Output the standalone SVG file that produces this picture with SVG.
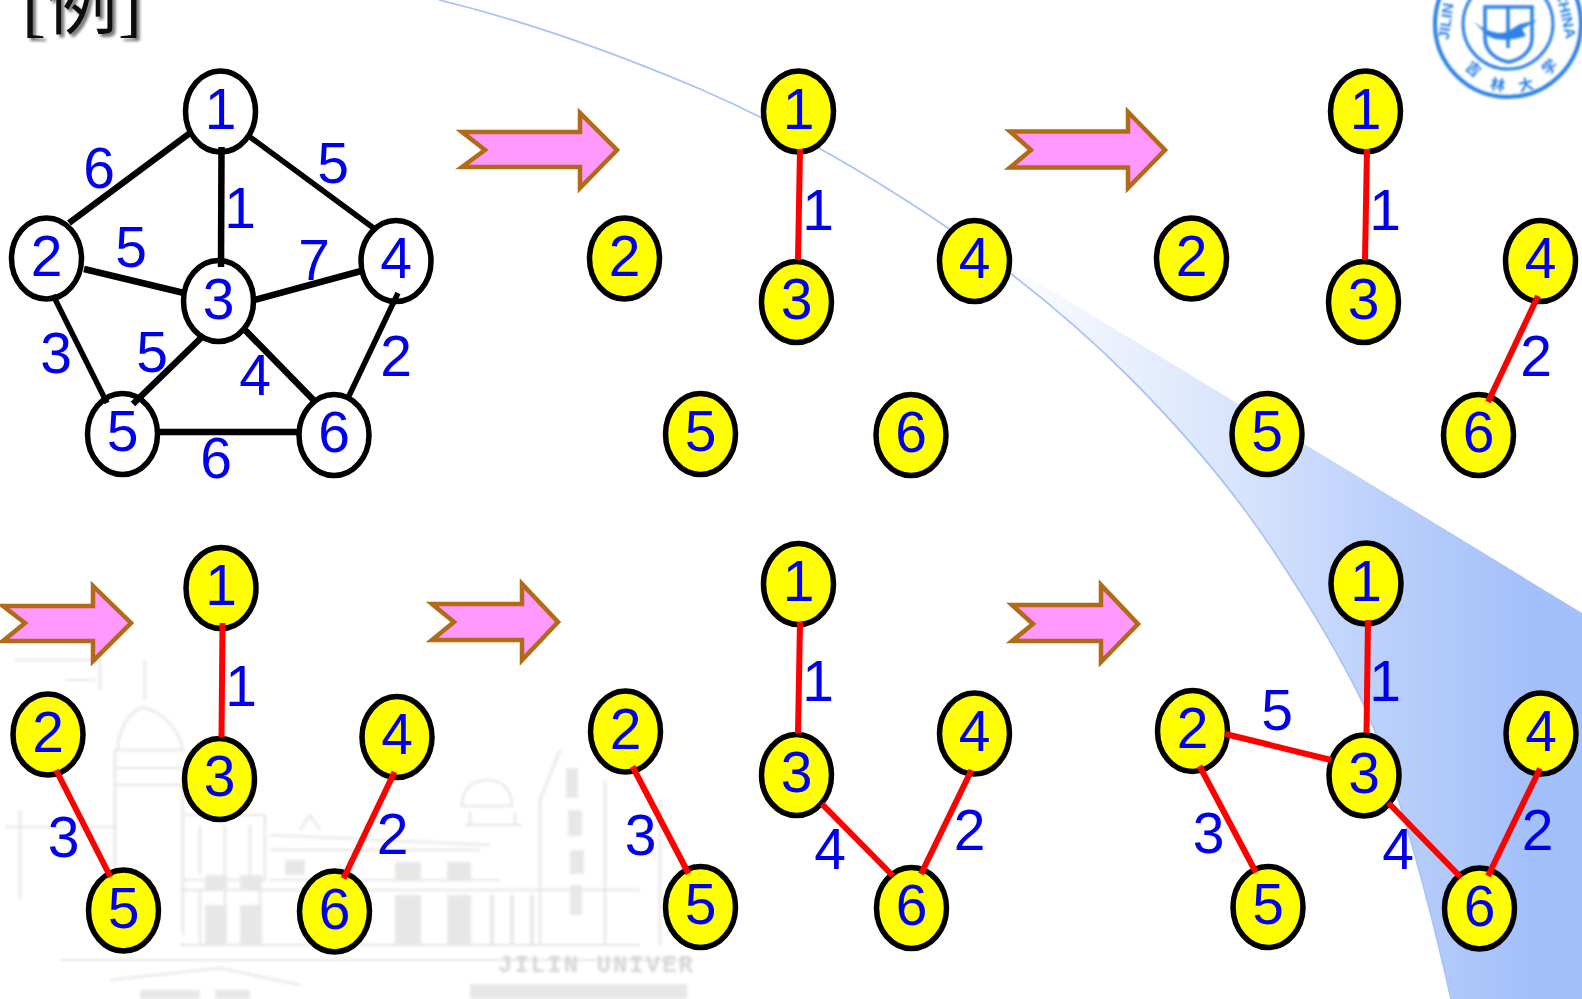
<svg xmlns="http://www.w3.org/2000/svg" width="1582" height="999" viewBox="0 0 1582 999">
<style>
text{font-family:"Liberation Sans",Arial,sans-serif}
.n text,.l{font-size:57px;fill:#0000EE;text-anchor:middle}
.n ellipse{stroke:#000;stroke-width:5.5}
.w ellipse{fill:#fff}
.y ellipse{fill:#FFFF00}
.b line{stroke:#000;stroke-width:5.5}
.b .t{stroke-width:6.5}
.r line{stroke:#FF0000;stroke-width:6}
.a{fill:#FF99FF;stroke:#B26A16;stroke-width:4.5;stroke-linejoin:miter}
.wm{fill:none;stroke:#dadada;stroke-width:2.2}
.wf{fill:#e0e0e0;stroke:none}
.lg{fill:none;stroke:#2F82E8}
.lt{fill:#2F82E8;font-size:15px;font-weight:bold;text-anchor:middle}
</style>
<defs>
<linearGradient id="sw" gradientUnits="userSpaceOnUse" x1="1000" y1="0" x2="1530" y2="0">
<stop offset="0" stop-color="#ffffff"/><stop offset="0.19" stop-color="#EDF2FD"/><stop offset="0.45" stop-color="#D8E4FC"/><stop offset="0.75" stop-color="#B8CEFB"/><stop offset="1" stop-color="#A4C0FA"/>
</linearGradient>
<filter id="bl" x="-5%" y="-5%" width="110%" height="110%"><feGaussianBlur stdDeviation="1.7"/></filter>
<filter id="bs" x="-5%" y="-5%" width="110%" height="110%"><feGaussianBlur stdDeviation="0.8"/></filter>
<filter id="ds" x="-10%" y="-10%" width="125%" height="130%"><feDropShadow dx="3" dy="3" stdDeviation="1.6" flood-color="#777"/></filter>
</defs>

<g id="background">
<path d="M948 228 L1133 340 L1240 405 L1400 502 L1582 613 V999 H1451 C1420 860 1385 750 1363 703 C1337 650 1305 598 1273 550 C1233 490 1185 433 1130 378 C1075 323 1015 274 948 228 Z" fill="url(#sw)"/>
<path d="M439 0 C530 22 620 55 700 89 C790 128 870 175 948 228 C1015 274 1075 323 1130 378 C1185 433 1233 490 1273 550 C1305 598 1337 650 1363 703 C1385 750 1420 860 1451 999" fill="none" stroke="#A9C5F5" stroke-width="1.8"/>
</g>

<g id="watermark" filter="url(#bl)" opacity="0.75">
<path class="wm" d="M145 660 V700 M117 750 C120 725 130 712 143 707 C160 712 178 725 183 750 M115 750 H185 M115 768 H185 M115 785 H183 M115 750 V890 M183 770 V935 M5 827 H115 M20 810 V900 M15 660 H100 L100 690 M65 680 H95 M185 815 H265 V880 H185 M200 825 V875 M225 825 V875 M250 825 V875 M270 835 L490 845 M270 850 H480 M270 880 H500 M180 890 H640 M180 945 H640 M200 890 V945 M225 890 V945 M260 890 V945 M300 830 L310 815 L320 830 M462 806 C462 790 472 780 487 780 C502 780 512 790 512 806 Z M465 825 H522 M470 812 V825 M515 812 V825 M340 960 H690 M60 960 H340 M560 750 L540 800 V945 M605 780 V945 M660 800 V945 M110 980 L220 968 L300 985"/>
<g class="wf">
<rect x="395" y="862" width="26" height="18"/><rect x="447" y="862" width="24" height="18"/><rect x="395" y="895" width="26" height="50"/><rect x="447" y="895" width="24" height="50"/><rect x="490" y="895" width="4" height="50"/><rect x="510" y="895" width="4" height="50"/><rect x="530" y="895" width="4" height="50"/>
<rect x="205" y="875" width="22" height="15"/><rect x="240" y="875" width="22" height="15"/><rect x="285" y="860" width="20" height="15"/><rect x="205" y="905" width="22" height="40"/><rect x="240" y="905" width="22" height="40"/>
<rect x="566" y="768" width="12" height="30"/><rect x="568" y="810" width="14" height="26"/><rect x="570" y="850" width="14" height="24"/><rect x="570" y="885" width="12" height="30"/>
<rect x="470" y="984" width="217" height="15"/><rect x="140" y="990" width="60" height="9"/><rect x="215" y="990" width="35" height="9"/>
</g>
<text x="498" y="972" font-size="24" font-weight="bold" fill="#c8c8c8" textLength="195" lengthAdjust="spacing" xml:space="preserve" style="font-family:'Liberation Mono',monospace">JILIN UNIVER</text>
</g>

<g id="logo" filter="url(#bs)">
<circle class="lg" cx="1508" cy="24" r="73" stroke-width="4"/>
<circle class="lg" cx="1508" cy="24" r="45" stroke-width="3"/>
<path class="lg" stroke-width="3.5" d="M1485 7 H1532 V38 C1532 52 1520 60 1508.5 62 C1497 60 1485 52 1485 38 Z M1508 7 V48"/>
<path d="M1474 22 C1485 30 1495 35 1507 32 L1520 24 L1538 20 L1522 29 L1526 36 C1515 40 1498 42 1488 36 Z" fill="#2F82E8"/>
<text class="lt" transform="translate(1451,22) rotate(-82)">JILIN</text>
<text class="lt" transform="translate(1561,16) rotate(78)">CHINA</text>
<text class="lt" transform="translate(1470,73) rotate(40)" style="font-family:'Noto Sans CJK SC',sans-serif">吉</text>
<text class="lt" transform="translate(1497,90) rotate(10)" style="font-family:'Noto Sans CJK SC',sans-serif">林</text>
<text class="lt" transform="translate(1527,90) rotate(-12)" style="font-family:'Noto Sans CJK SC',sans-serif">大</text>
<text class="lt" transform="translate(1553,71) rotate(-42)" style="font-family:'Noto Sans CJK SC',sans-serif">学</text>
</g>

<text id="title" x="22" y="28" filter="url(#ds)" font-size="72" fill="#111" style="font-family:'Liberation Serif','Noto Sans CJK SC',serif">[例]</text>

<g id="arrows">
<polygon class="a" points="462,132 580,132 580,113 617,150 580,188 580,167 462,167 485,150"/>
<polygon class="a" points="1010,131.5 1128,131.5 1128,112 1165,150 1128,188 1128,167.5 1010,167.5 1031,150"/>
<polygon class="a" points="3,606 93,606 93,586 131,623 93,661 93,641 3,641 25,623"/>
<polygon class="a" points="432,604 522,604 522,584 558,622 522,660 522,640 432,640 454,622"/>
<polygon class="a" points="1012,605 1101,605 1101,585 1138,624 1101,662 1101,641 1012,641 1033,624"/>
</g>

<g id="nodes">
<g id="p1-n1" class="n w" transform="translate(220.5,111.5)"><ellipse rx="35" ry="40.5"/><text y="17">1</text></g>
<g id="p1-n2" class="n w" transform="translate(46.5,258.5)"><ellipse rx="35" ry="40.5"/><text y="17">2</text></g>
<g id="p1-n3" class="n w" transform="translate(218.5,301)"><ellipse rx="35" ry="40.5"/><text y="18">3</text></g>
<g id="p1-n4" class="n w" transform="translate(396,261)"><ellipse rx="35" ry="40.5"/><text y="17">4</text></g>
<g id="p1-n5" class="n w" transform="translate(122.5,434)"><ellipse rx="35" ry="40.5"/><text y="17">5</text></g>
<g id="p1-n6" class="n w" transform="translate(334,435)"><ellipse rx="35" ry="40.5"/><text y="17">6</text></g>

<g id="p2-n1" class="n y" transform="translate(798.5,111.5)"><ellipse rx="35" ry="40.5"/><text y="17">1</text></g>
<g id="p2-n2" class="n y" transform="translate(624.5,258.5)"><ellipse rx="35" ry="40.5"/><text y="17">2</text></g>
<g id="p2-n3" class="n y" transform="translate(796.5,302)"><ellipse rx="35" ry="40.5"/><text y="17">3</text></g>
<g id="p2-n4" class="n y" transform="translate(974.5,261)"><ellipse rx="35" ry="40.5"/><text y="17">4</text></g>
<g id="p2-n5" class="n y" transform="translate(700.5,434)"><ellipse rx="35" ry="40.5"/><text y="17">5</text></g>
<g id="p2-n6" class="n y" transform="translate(911,435)"><ellipse rx="35" ry="40.5"/><text y="17">6</text></g>

<g id="p3-n1" class="n y" transform="translate(1365.5,111.5)"><ellipse rx="35" ry="40.5"/><text y="17">1</text></g>
<g id="p3-n2" class="n y" transform="translate(1191.5,258.5)"><ellipse rx="35" ry="40.5"/><text y="17">2</text></g>
<g id="p3-n3" class="n y" transform="translate(1363.5,302)"><ellipse rx="35" ry="40.5"/><text y="17">3</text></g>
<g id="p3-n4" class="n y" transform="translate(1540.5,261)"><ellipse rx="35" ry="40.5"/><text y="17">4</text></g>
<g id="p3-n5" class="n y" transform="translate(1267,434)"><ellipse rx="35" ry="40.5"/><text y="17">5</text></g>
<g id="p3-n6" class="n y" transform="translate(1478.5,435)"><ellipse rx="35" ry="40.5"/><text y="17">6</text></g>

<g id="p4-n1" class="n y" transform="translate(221,588)"><ellipse rx="35" ry="40.5"/><text y="17">1</text></g>
<g id="p4-n2" class="n y" transform="translate(48,734.5)"><ellipse rx="35" ry="40.5"/><text y="17">2</text></g>
<g id="p4-n3" class="n y" transform="translate(219.5,779)"><ellipse rx="35" ry="40.5"/><text y="17">3</text></g>
<g id="p4-n4" class="n y" transform="translate(397,737)"><ellipse rx="35" ry="40.5"/><text y="17">4</text></g>
<g id="p4-n5" class="n y" transform="translate(123.5,910.5)"><ellipse rx="35" ry="40.5"/><text y="17">5</text></g>
<g id="p4-n6" class="n y" transform="translate(334.5,911.5)"><ellipse rx="35" ry="40.5"/><text y="17">6</text></g>

<g id="p5-n1" class="n y" transform="translate(798.5,584)"><ellipse rx="35" ry="40.5"/><text y="17">1</text></g>
<g id="p5-n2" class="n y" transform="translate(625.5,731.5)"><ellipse rx="35" ry="40.5"/><text y="17">2</text></g>
<g id="p5-n3" class="n y" transform="translate(796.5,775)"><ellipse rx="35" ry="40.5"/><text y="17">3</text></g>
<g id="p5-n4" class="n y" transform="translate(974.5,733.5)"><ellipse rx="35" ry="40.5"/><text y="17">4</text></g>
<g id="p5-n5" class="n y" transform="translate(700.5,907)"><ellipse rx="35" ry="40.5"/><text y="17">5</text></g>
<g id="p5-n6" class="n y" transform="translate(911.5,908)"><ellipse rx="35" ry="40.5"/><text y="17">6</text></g>

<g id="p6-n1" class="n y" transform="translate(1366,583.5)"><ellipse rx="35" ry="40.5"/><text y="17">1</text></g>
<g id="p6-n2" class="n y" transform="translate(1192.5,731)"><ellipse rx="35" ry="40.5"/><text y="17">2</text></g>
<g id="p6-n3" class="n y" transform="translate(1364,775.5)"><ellipse rx="35" ry="40.5"/><text y="17">3</text></g>
<g id="p6-n4" class="n y" transform="translate(1541,733.5)"><ellipse rx="35" ry="40.5"/><text y="17">4</text></g>
<g id="p6-n5" class="n y" transform="translate(1268,907)"><ellipse rx="35" ry="40.5"/><text y="17">5</text></g>
<g id="p6-n6" class="n y" transform="translate(1479.5,908.5)"><ellipse rx="35" ry="40.5"/><text y="17">6</text></g>
</g>

<g id="connectors">
<g class="b">
<line class="t" x1="190" y1="133" x2="69" y2="223"/>
<line class="t" x1="221.5" y1="147" x2="221" y2="267"/>
<line x1="250" y1="137" x2="373.5" y2="228"/>
<line class="t" x1="84" y1="269" x2="184" y2="293"/>
<line class="t" x1="254" y1="300" x2="361" y2="271"/>
<line x1="53" y1="295" x2="107" y2="403"/>
<line class="t" x1="204" y1="335" x2="133" y2="404"/>
<line class="t" x1="245" y1="330" x2="313.5" y2="400"/>
<line x1="398" y1="293" x2="348" y2="398"/>
<line class="t" x1="159" y1="432" x2="300" y2="432"/>
</g>
<g class="r">
<line x1="800" y1="149" x2="798" y2="260"/>
<line x1="1367" y1="149" x2="1365" y2="260"/>
<line x1="1538" y1="296" x2="1488" y2="402"/>
<line x1="222.5" y1="623" x2="221.5" y2="737"/>
<line x1="56" y1="770" x2="110.5" y2="877"/>
<line x1="394.5" y1="772" x2="343.5" y2="878.5"/>
<line x1="800" y1="622" x2="798" y2="733.5"/>
<line x1="632.5" y1="766.5" x2="688.5" y2="873.5"/>
<line x1="822" y1="804" x2="893" y2="876"/>
<line x1="971.5" y1="770" x2="921" y2="874"/>
<line x1="1368" y1="620" x2="1366.5" y2="733"/>
<line x1="1225.5" y1="734" x2="1331" y2="760"/>
<line x1="1199.5" y1="766" x2="1256" y2="872.5"/>
<line x1="1388.5" y1="803" x2="1460.5" y2="877"/>
<line x1="1540" y1="768.5" x2="1488" y2="876"/>
</g>
</g>

<g id="labels">
<text class="l" x="99" y="188">6</text>
<text class="l" x="240" y="228">1</text>
<text class="l" x="333" y="183">5</text>
<text class="l" x="131" y="267">5</text>
<text class="l" x="314" y="280">7</text>
<text class="l" x="56" y="373">3</text>
<text class="l" x="152" y="372">5</text>
<text class="l" x="255" y="395">4</text>
<text class="l" x="396" y="376">2</text>
<text class="l" x="216" y="478">6</text>
<text class="l" x="818" y="230">1</text>
<text class="l" x="1385" y="230">1</text>
<text class="l" x="1536" y="376">2</text>
<text class="l" x="241" y="706">1</text>
<text class="l" x="63.5" y="857">3</text>
<text class="l" x="392.5" y="853.5">2</text>
<text class="l" x="818" y="701">1</text>
<text class="l" x="640.5" y="854.5">3</text>
<text class="l" x="830" y="869">4</text>
<text class="l" x="969.5" y="850">2</text>
<text class="l" x="1385" y="701">1</text>
<text class="l" x="1277" y="730">5</text>
<text class="l" x="1208.5" y="853">3</text>
<text class="l" x="1398" y="869">4</text>
<text class="l" x="1537.5" y="850">2</text>
</g>
</svg>
